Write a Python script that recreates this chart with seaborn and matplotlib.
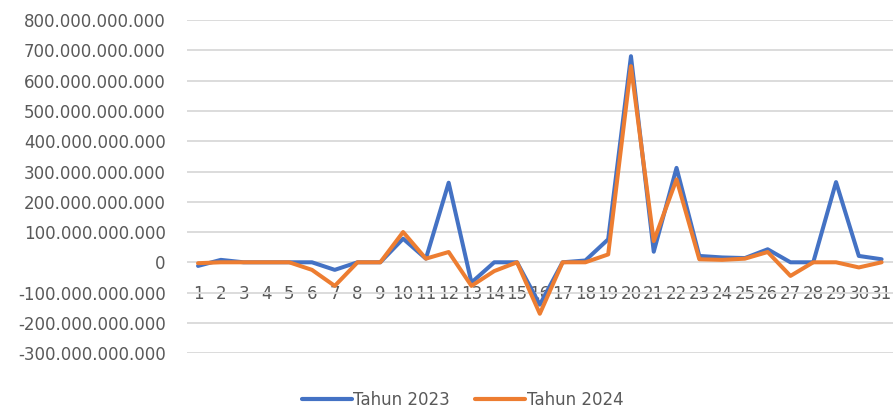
import pandas as pd
import matplotlib.pyplot as plt
import seaborn as sns

# daily values (in billions)
days = list(range(1, 32))
tahun_2023 = [-12, 8, 0, 0, 0, 0, -25, 0, 0, 78, 12, 263, -67, 0, 0, -140,
              0, 6, 76, 681, 35, 312, 21, 16, 14, 43, 0, 0, 265, 21, 10]
tahun_2024 = [-3, 0, 0, 0, 0, -25, -78, 0, 0, 100, 12, 34, -78, -29, 0, -170,
              0, 0, 26, 648, 70, 274, 10, 8, 12, 34, -45, 0, 0, -17, 0]
y_ticks = list(range(-300, 801, 100))

df = pd.DataFrame({"day": days * 2,
                   "value": [v * 1e9 for v in tahun_2023 + tahun_2024],
                   "series": ["Tahun 2023"] * 31 + ["Tahun 2024"] * 31})

sns.set_style("white")
plt.rcParams["font.family"] = ["DejaVu Sans"]
text_col = "#595959"

fig = plt.figure(figsize=(8.93, 4.12), dpi=100)
ax = fig.add_axes([0.209, 0.143, 0.791, 0.808])

sns.lineplot(data=df, x="day", y="value", hue="series",
             palette={"Tahun 2023": "#4472C4", "Tahun 2024": "#ED7D31"},
             linewidth=2.9, ax=ax, legend=False)

ax.set_xlim(0.5, 31.5)
ax.set_ylim(-300e9, 800e9)
ax.set_yticks([t * 1e9 for t in y_ticks])
ax.set_yticklabels([f"{t * 1e9:,.0f}".replace(",", ".") for t in y_ticks])
ax.set_xticks(days)
ax.set_xticklabels([str(d) for d in days])
ax.grid(axis="y", color="#d9d9d9", linewidth=1.3)
ax.set_axisbelow(True)
for s in ["top", "right", "left"]:
    ax.spines[s].set_visible(False)
ax.spines["bottom"].set_position(("data", 0))
ax.spines["bottom"].set_visible(False)
ax.tick_params(axis="x", length=0, pad=16, labelsize=12, labelcolor=text_col)
ax.tick_params(axis="y", length=0, pad=15, labelsize=12, labelcolor=text_col)
ax.set_xlabel("")
ax.set_ylabel("")

handles = [plt.Line2D([], [], color="#4472C4", linewidth=3),
           plt.Line2D([], [], color="#ED7D31", linewidth=3)]
fig.legend(handles, ["Tahun 2023", "Tahun 2024"], loc="center",
           bbox_to_anchor=(0.518, 0.03), ncol=2, frameon=False,
           handlelength=3, handletextpad=0.1, columnspacing=1.5,
           fontsize=12, labelcolor=text_col)

fig.savefig("out.png", dpi=100)
